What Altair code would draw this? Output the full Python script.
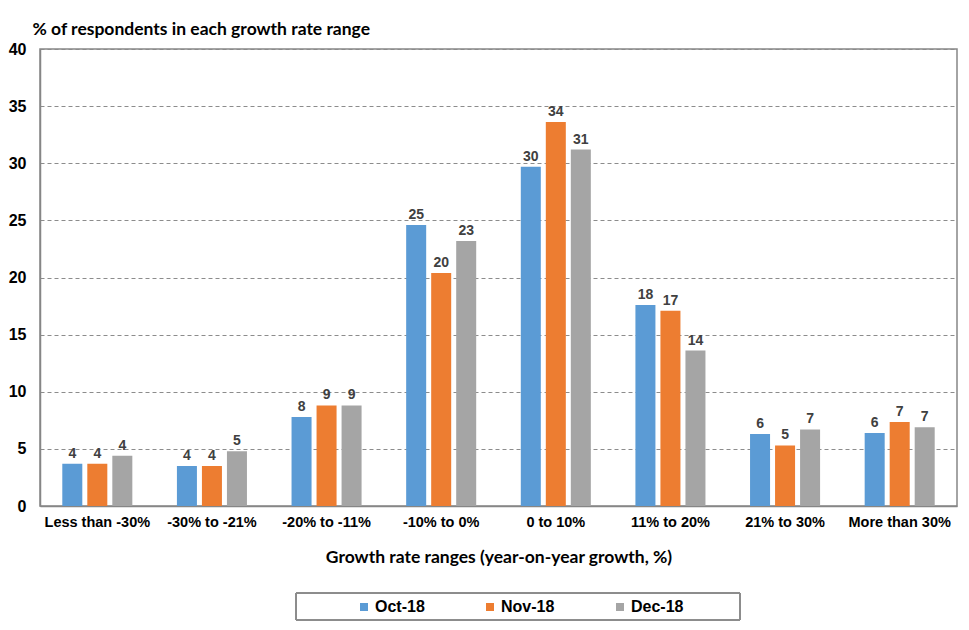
import altair as alt
import pandas as pd

categories = ["Less than -30%", "-30% to -21%", "-20% to -11%", "-10% to 0%",
              "0 to 10%", "11% to 20%", "21% to 30%", "More than 30%"]
series = ["Oct-18", "Nov-18", "Dec-18"]
oct_vals = [3.7, 3.5, 7.8, 24.6, 29.7, 17.6, 6.3, 6.4]
nov_vals = [3.7, 3.5, 8.8, 20.4, 33.6, 17.1, 5.3, 7.35]
dec_vals = [4.4, 4.8, 8.8, 23.2, 31.2, 13.6, 6.7, 6.9]
oct_labels = ["4", "4", "8", "25", "30", "18", "6", "6"]
nov_labels = ["4", "4", "9", "20", "34", "17", "5", "7"]
dec_labels = ["4", "5", "9", "23", "31", "14", "7", "7"]
colors = ["#5B9BD5", "#ED7D31", "#A5A5A5"]

rows = []
for s, vals, labs in zip(series, [oct_vals, nov_vals, dec_vals],
                         [oct_labels, nov_labels, dec_labels]):
    for c, v, l in zip(categories, vals, labs):
        rows.append({"category": c, "series": s, "value": v, "label": l})
df = pd.DataFrame(rows)

x = alt.X("category:N", sort=categories,
          scale=alt.Scale(paddingInner=0.389, paddingOuter=0.1945),
          axis=alt.Axis(title="Growth rate ranges (year-on-year growth, %)",
                        labelAngle=0, labelFont="Liberation Sans", labelFontWeight="bold",
                        labelFontSize=14.5, labelColor="#000000", labelPadding=9,
                        ticks=False, domainColor="#868686", domainWidth=1.5,
                        titleFont="Lato", titleFontWeight="bold", titleFontSize=17.5,
                        titleColor="#000000", titlePadding=20, grid=False))
xo = alt.XOffset("series:N", sort=series,
                 scale=alt.Scale(paddingInner=0.2, paddingOuter=0))
y = alt.Y("value:Q", scale=alt.Scale(domain=[0, 40], nice=False),
          axis=alt.Axis(values=list(range(0, 41, 5)), title="% of respondents in each growth rate range",
                        titleAngle=0, titleAlign="left", titleBaseline="bottom",
                        titleX=-8, titleY=-11, titleFont="Lato", titleFontWeight="bold",
                        titleFontSize=17.5, titleColor="#000000",
                        labelFont="Liberation Sans", labelFontWeight="bold", labelFontSize=16,
                        labelColor="#000000", labelPadding=14, ticks=False,
                        domainColor="#868686", domainWidth=1.5,
                        gridColor="#8c8c8c", gridDash=[4, 3], gridWidth=1))

color = alt.Color("series:N", sort=series,
                  scale=alt.Scale(domain=series, range=colors),
                  legend=alt.Legend(title=None, orient="none", direction="horizontal",
                                    legendX=316, legendY=550, symbolType="square",
                                    symbolSize=64, symbolStrokeWidth=0, labelOffset=3,
                                    labelFont="Liberation Sans", labelFontWeight="bold",
                                    labelFontSize=16, labelColor="#000000",
                                    columnPadding=57, padding=0))

base = alt.Chart(df)
bars = base.mark_bar().encode(x=x, xOffset=xo, y=y, color=color)
texts = base.mark_text(dy=-10, font="Liberation Sans", fontWeight="bold",
                       fontSize=14, color="#404040").encode(
    x=alt.X("category:N", sort=categories), xOffset=alt.XOffset("series:N", sort=series),
    y="value:Q", text="label:N")
frame = base.mark_rect(fill=None, stroke="#8c8c8c", strokeWidth=1).encode(
    x=alt.value(256), x2=alt.value(700), y=alt.value(544), y2=alt.value(571))

chart = alt.layer(bars, texts, frame).properties(
    width=917, height=457,
    autosize=alt.AutoSizeParams(type="none"),
    padding={"left": 32, "top": 41, "right": 4, "bottom": 116},
).configure_view(stroke="#868686", strokeWidth=1.5)

chart.save("out.html", embed_options={"renderer": "svg", "actions": False})
